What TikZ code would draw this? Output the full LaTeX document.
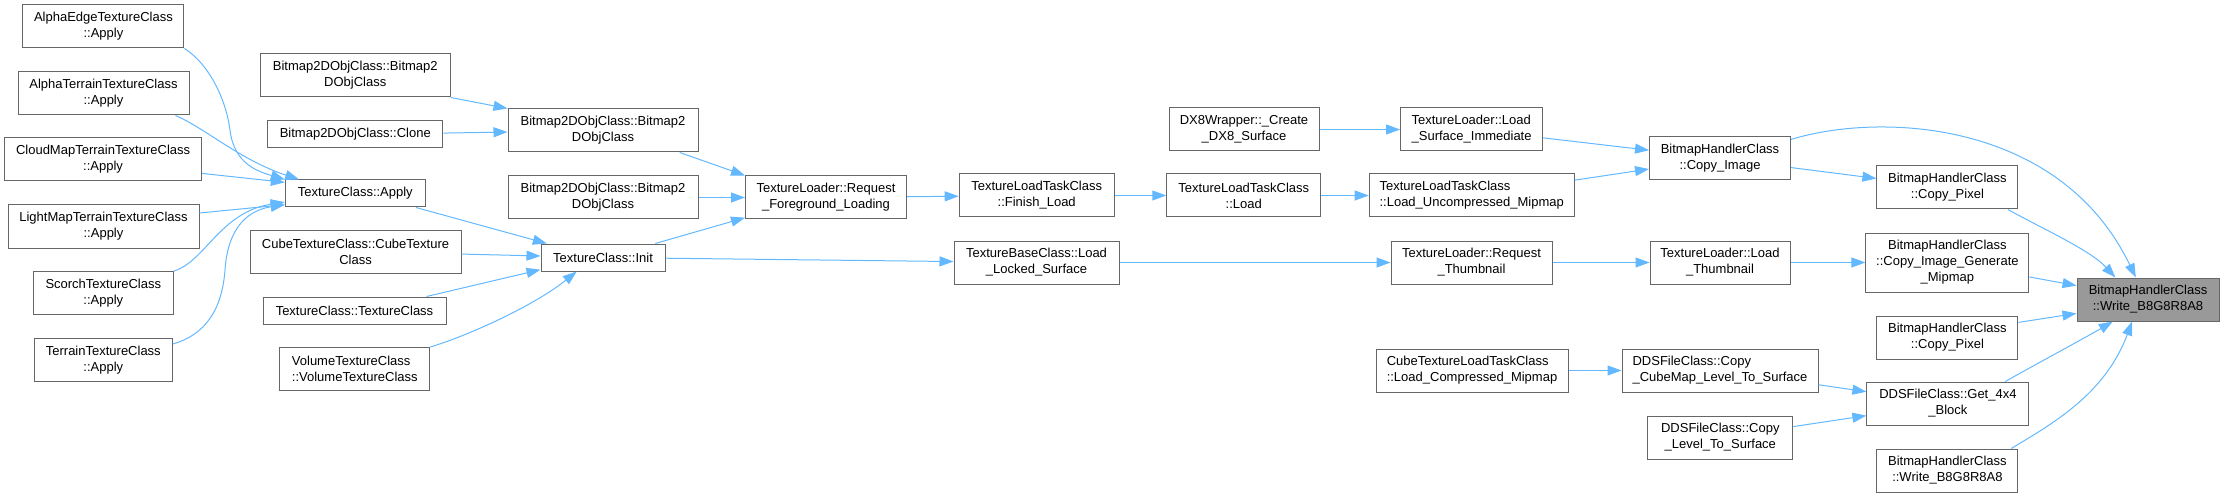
\documentclass[tikz,border=0pt]{standalone}
\usepackage{fontspec}
\setmainfont{Liberation Sans}
\usetikzlibrary{arrows.meta}
\definecolor{kante}{HTML}{63B8FF}
\definecolor{rand}{HTML}{666666}
\definecolor{zielg}{HTML}{999999}
\tikzset{
  knoten/.style={draw=rand,fill=white,line width=1pt,inner sep=2pt,align=center,font=\fontsize{13}{16}\selectfont},
  knotenl/.style={knoten,align=left},
  ziel/.style={knoten,fill=zielg},
  pfeil/.style={-{Triangle[length=14pt,width=10pt]},kante,line width=1pt},
}

\begin{document}
\begin{tikzpicture}[x=1pt,y=-1pt]
  \useasboundingbox (0,0) rectangle (2224,497);
  % linke Spalte
  \node[knoten,minimum width=161,minimum height=43] (aedge) at (103.4,26.4) {AlphaEdgeTextureClass\\::Apply};
  \node[knoten,minimum width=171,minimum height=43] (aterr) at (103.5,93.5) {AlphaTerrainTextureClass\\::Apply};
  \node[knoten,minimum width=197,minimum height=43] (cloud) at (103.1,159.5) {CloudMapTerrainTextureClass\\::Apply};
  \node[knoten,minimum width=191,minimum height=43] (light) at (103.5,226.5) {LightMapTerrainTextureClass\\::Apply};
  \node[knoten,minimum width=140,minimum height=43] (scorch) at (103.3,293) {ScorchTextureClass\\::Apply};
  \node[knoten,minimum width=138,minimum height=43] (terr) at (103.3,360) {TerrainTextureClass\\::Apply};
  \node[knoten,minimum width=190,minimum height=43] (bmpa) at (355.3,75.5) {Bitmap2DObjClass::Bitmap2\\DObjClass};
  \node[knoten,minimum width=175,minimum height=27] (clone) at (355.3,134.5) {Bitmap2DObjClass::Clone};
  \node[knoten,minimum width=140,minimum height=27] (tapply) at (355.3,193.5) {TextureClass::Apply};
  \node[knoten,minimum width=211,minimum height=43] (cube) at (355.5,251.5) {CubeTextureClass::CubeTexture\\Class};
  \node[knoten,minimum width=183,minimum height=27] (tctor) at (354.5,310.5) {TextureClass::TextureClass};
  \node[knotenl,minimum width=150,minimum height=43] (vol) at (354.8,369) {VolumeTextureClass\\::VolumeTextureClass};
  \node[knoten,minimum width=190,minimum height=43] (bmpb) at (603,130.5) {Bitmap2DObjClass::Bitmap2\\DObjClass};
  \node[knoten,minimum width=190,minimum height=43] (bmpc) at (603,197.5) {Bitmap2DObjClass::Bitmap2\\DObjClass};
  \node[knoten,minimum width=124,minimum height=27] (init) at (603,257.5) {TextureClass::Init};
  % Laden
  \node[knoten,minimum width=161,minimum height=43] (reqfg) at (826,197.5) {TextureLoader::Request\\\_Foreground\_Loading};
  \node[knoten,minimum width=155,minimum height=43] (finish) at (1036.7,195.5) {TextureLoadTaskClass\\::Finish\_Load};
  \node[knoten,minimum width=165,minimum height=43] (locked) at (1036.5,262.5) {TextureBaseClass::Load\\\_Locked\_Surface};
  \node[knoten,minimum width=150,minimum height=43] (dx8) at (1244,129.5) {DX8Wrapper::\_Create\\\_DX8\_Surface};
  \node[knoten,minimum width=154,minimum height=43] (tload) at (1243.8,195.5) {TextureLoadTaskClass\\::Load};
  \node[knotenl,minimum width=142,minimum height=43] (surfimm) at (1471.6,129.5) {TextureLoader::Load\\\_Surface\_Immediate};
  \node[knotenl,minimum width=205,minimum height=43] (uncomp) at (1471.7,195.5) {TextureLoadTaskClass\\::Load\_Uncompressed\_Mipmap};
  \node[knoten,minimum width=161,minimum height=43] (reqthumb) at (1471.5,262.5) {TextureLoader::Request\\\_Thumbnail};
  \node[knotenl,minimum width=192,minimum height=43] (cubeload) at (1472,370.5) {CubeTextureLoadTaskClass\\::Load\_Compressed\_Mipmap};
  \node[knoten,minimum width=141,minimum height=43] (copyimg) at (1720,158.5) {BitmapHandlerClass\\::Copy\_Image};
  \node[knoten,minimum width=140,minimum height=43] (lthumb) at (1720,262.5) {TextureLoader::Load\\\_Thumbnail};
  \node[knotenl,minimum width=196,minimum height=43] (cubemap) at (1720,370.5) {DDSFileClass::Copy\\\_CubeMap\_Level\_To\_Surface};
  \node[knoten,minimum width=145,minimum height=43] (copylvl) at (1720.3,437.5) {DDSFileClass::Copy\\\_Level\_To\_Surface};
  \node[knoten,minimum width=141,minimum height=43] (pixa) at (1947.4,187.5) {BitmapHandlerClass\\::Copy\_Pixel};
  \node[knoten,minimum width=163,minimum height=59] (genmip) at (1947.4,262.5) {BitmapHandlerClass\hfill\\::Copy\_Image\_Generate\\\_Mipmap};
  \node[knoten,minimum width=141,minimum height=43] (pixb) at (1947.4,337.5) {BitmapHandlerClass\\::Copy\_Pixel};
  \node[knoten,minimum width=162,minimum height=43] (get4) at (1947.9,403.5) {DDSFileClass::Get\_4x4\\\_Block};
  \node[knoten,minimum width=141,minimum height=43] (bwrite2) at (1947.4,470.5) {BitmapHandlerClass\\::Write\_B8G8R8A8};
  \node[ziel,minimum width=142,minimum height=43] (bwrite) at (2148,299.5) {BitmapHandlerClass\\::Write\_B8G8R8A8};
  % Kanten
  \draw[pfeil] (aedge.south east) .. controls (210,65) and (226,100) .. (230,130) .. controls (234,165) and (260,172) .. (tapply.north west);
  \draw[pfeil] (aterr.-17) .. controls (205,128) and (240,160) .. (tapply.166);
  \draw[pfeil] (cloud.-8) -- (tapply.171);
  \draw[pfeil] (light.8) -- (tapply.189);
  \draw[pfeil] (scorch.north east) .. controls (205,262) and (220,212) .. (tapply.187);
  \draw[pfeil] (terr.13) .. controls (205,335) and (222,310) .. (225,270) .. controls (228,225) and (250,210) .. (tapply.189);
  \draw[pfeil] (bmpa.south east) -- (bmpb.north west);
  \draw[pfeil] (clone) -- (bmpb);
  \draw[pfeil] (tapply.-13) -- (init.166);
  \draw[pfeil] (cube) -- (init);
  \draw[pfeil] (tctor.11) -- (init.191);
  \draw[pfeil] (vol.north east) .. controls (470,335) and (535,305) .. (init.208);
  \draw[pfeil] (bmpb.-16) -- (reqfg.north west);
  \draw[pfeil] (bmpc) -- (reqfg);
  \draw[pfeil] (init.15) -- (reqfg.194);
  \draw[pfeil] (init) -- (locked);
  \draw[pfeil] (reqfg) -- (finish);
  \draw[pfeil] (finish) -- (tload);
  \draw[pfeil] (tload) -- (uncomp);
  \draw[pfeil] (dx8) -- (surfimm);
  \draw[pfeil] (surfimm) -- (copyimg);
  \draw[pfeil] (uncomp) -- (copyimg);
  \draw[pfeil] (locked) -- (reqthumb);
  \draw[pfeil] (reqthumb) -- (lthumb);
  \draw[pfeil] (lthumb) -- (genmip);
  \draw[pfeil] (cubeload) -- (cubemap);
  \draw[pfeil] (cubemap) -- (get4);
  \draw[pfeil] (copylvl) -- (get4);
  \draw[pfeil] (copyimg) -- (pixa);
  \draw[pfeil] (copyimg.15) .. controls (1880,112) and (2060,120) .. (bwrite.119);
  \draw[pfeil] (pixa.-20) .. controls (2045,230) and (2090,250) .. (bwrite.146);
  \draw[pfeil] (genmip.-10.5) -- (bwrite.169);
  \draw[pfeil] (pixb.12) -- (bwrite.191);
  \draw[pfeil] (get4.21) .. controls (2040,362) and (2090,335) .. (bwrite.212);
  \draw[pfeil] (bwrite2.19) .. controls (2050,425) and (2105,395) .. (bwrite.234);
\end{tikzpicture}
\end{document}
